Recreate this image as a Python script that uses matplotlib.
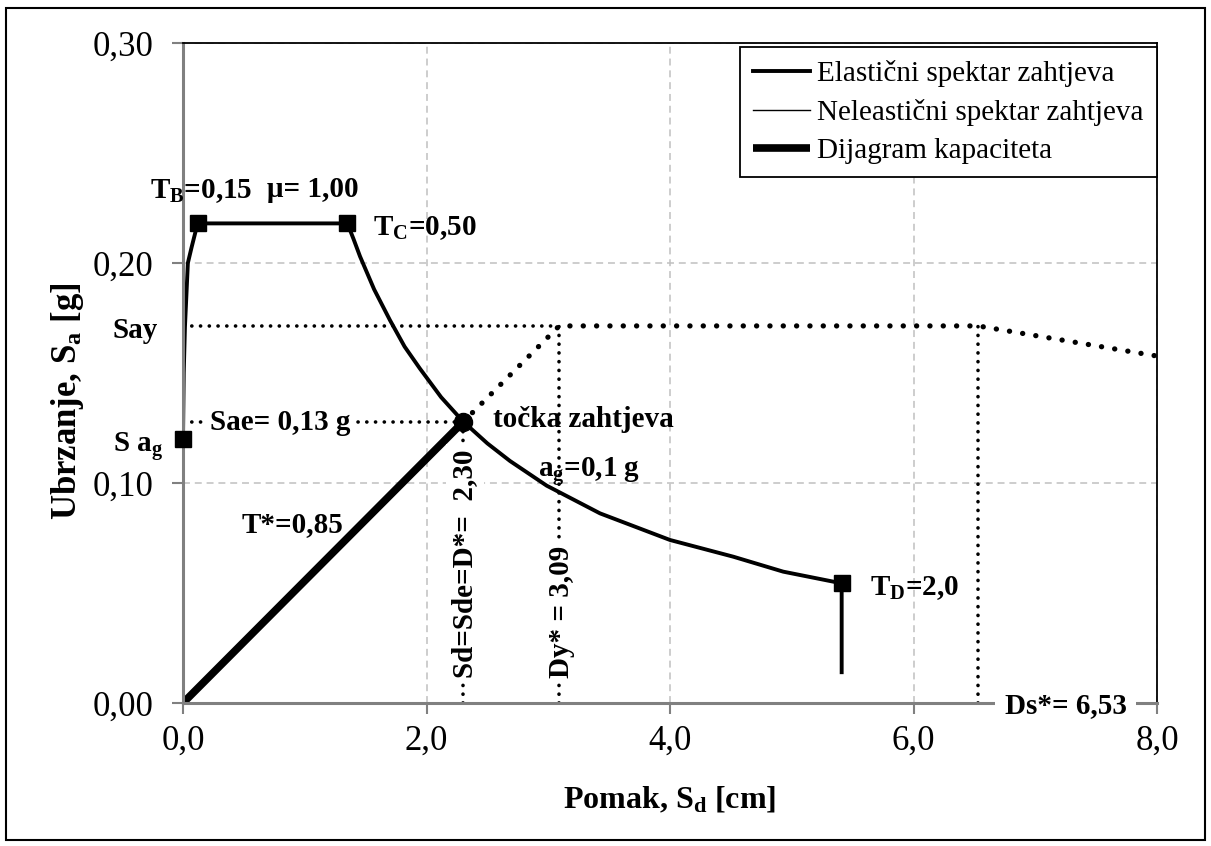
import matplotlib
matplotlib.use('Agg')
import matplotlib.pyplot as plt
from matplotlib.patches import Rectangle

plt.rcParams['font.family'] = 'Liberation Serif'
plt.rcParams['mathtext.fontset'] = 'custom'
plt.rcParams['mathtext.rm'] = 'Liberation Serif'
plt.rcParams['mathtext.bf'] = 'Liberation Serif:bold'
plt.rcParams['mathtext.it'] = 'Liberation Serif:italic'
plt.rcParams['lines.scale_dashes'] = False

# elasticni spektar (Sd [cm], Sa [g]) ocitano sa slike
elastic_sd = [0.0, 0.006, 0.016, 0.04, 0.07, 0.12, 1.35, 1.40, 1.454, 1.57, 1.70, 1.82, 1.946,
              2.12, 2.30, 2.50, 2.686, 2.987, 3.425, 4.0, 4.52, 4.93, 5.41, 5.41]
elastic_sa = [0.120, 0.150, 0.171, 0.200, 0.207, 0.218, 0.218, 0.211, 0.203, 0.188, 0.174, 0.162,
              0.152, 0.139, 0.128, 0.118, 0.110, 0.0988, 0.0862, 0.0741, 0.0665, 0.0597, 0.0544, 0.014]
# mi = 1,00 -> neelasticni = elasticni
inelastic_sd = elastic_sd
inelastic_sa = elastic_sa
# karakteristicne tocke (Sag, TB, TC, TD)
corner_sd = [0.0, 0.12, 1.35, 5.41]
corner_sa = [0.120, 0.218, 0.218, 0.0544]
# dijagram kapaciteta
cap_sd = [0.0, 2.30]
cap_sa = [0.0, 0.1277]
cap_dot_sd = [2.30, 3.09, 6.53, 8.0]
cap_dot_sa = [0.1277, 0.1714, 0.1714, 0.1577]
# tocka zahtjeva i pomocne linije
d_star = 2.30
sae = 0.1277
dy_star = 3.09
ds_star = 6.53
say = 0.1714

x_ticks = [0, 2, 4, 6, 8]
x_labels = ['0,0', '2,0', '4,0', '6,0', '8,0']
y_ticks = [0.0, 0.1, 0.2, 0.3]
y_labels = ['0,00', '0,10', '0,20', '0,30']

W, H = 1211, 846
fig = plt.figure(figsize=(W / 100, H / 100), dpi=100)
ax = fig.add_axes([183 / W, 1 - 703 / H, (1157 - 183) / W, (703 - 43) / H])

small_dots = dict(color='black', lw=2.6, ls=(0, (0.1, 6.2)), dash_capstyle='round')
big_dots = dict(color='black', lw=3.8, ls=(0, (0.1, 9.5)), dash_capstyle='round')

# pomocne tockaste linije
ax.plot([0, dy_star], [say, say], **small_dots)
ax.plot([0, d_star], [sae, sae], **small_dots)
ax.plot([d_star, d_star], [0, sae], **small_dots)
ax.plot([dy_star, dy_star], [0, say], **small_dots)
ax.plot([ds_star, ds_star], [0, say], **small_dots)

l_inel, = ax.plot(inelastic_sd, inelastic_sa, color='black', lw=1.0)
l_el, = ax.plot(elastic_sd, elastic_sa, color='black', lw=2.8, solid_joinstyle='round')
ax.plot(corner_sd, corner_sa, ls='none', marker='s', ms=12, color='black', clip_on=False, zorder=5)
l_cap, = ax.plot(cap_sd, cap_sa, color='black', lw=5.5, solid_capstyle='butt')
ax.plot(cap_dot_sd, cap_dot_sa, **big_dots)
ax.plot([d_star], [sae], ls='none', marker='o', ms=13, color='black', zorder=6)

ax.set_xlim(0, 8)
ax.set_ylim(0, 0.30)
ax.set_xticks(x_ticks)
ax.set_xticklabels(x_labels)
ax.set_yticks(y_ticks)
ax.set_yticklabels(y_labels)
ax.tick_params(axis='both', direction='out', length=8, width=1.5, color='#808080', labelsize=25)
ax.tick_params(axis='x', pad=8)
ax.tick_params(axis='y', pad=13)
ax.grid(True, color='#c0c0c0', ls=(0, (5, 3.5)), lw=1.1)
ax.set_axisbelow(True)
for s in ['left', 'bottom']:
    ax.spines[s].set_color('#808080')
    ax.spines[s].set_linewidth(2.2)
for s in ['top', 'right']:
    ax.spines[s].set_color('black')
    ax.spines[s].set_linewidth(1.3)

fs = 21
wbox = dict(facecolor='white', edgecolor='none', pad=4)
ax.text(-0.271, 0.2294, r'T$_\mathbf{B}$=0,15', fontsize=fs, fontweight='bold', clip_on=False)
ax.text(0.69, 0.2299, 'μ= 1,00', fontsize=fs, fontweight='bold')
ax.text(1.56, 0.2126, r'T$_\mathbf{C}$=0,50', fontsize=fs, fontweight='bold')
ax.text(-0.575, 0.1658, 'Say', fontsize=fs, fontweight='bold', clip_on=False)
ax.text(-0.575, 0.114, r'S a$_\mathbf{g}$', fontsize=fs, fontweight='bold', clip_on=False)
ax.text(0.222, 0.124, 'Sae= 0,13 g', fontsize=fs, fontweight='bold', bbox=wbox)
ax.text(2.546, 0.1254, 'točka zahtjeva', fontsize=fs, fontweight='bold')
ax.text(2.916, 0.1027, r'a$_\mathbf{g}$=0,1 g', fontsize=fs, fontweight='bold')
ax.text(0.485, 0.0777, 'T*=0,85', fontsize=fs, fontweight='bold')
ax.text(d_star + 0.016, 0.0114, 'Sd=Sde=D*=  2,30', fontsize=fs, fontweight='bold',
        rotation=90, ha='center', va='bottom', bbox=wbox)
ax.text(dy_star + 0.02, 0.0114, 'Dy* = 3,09', fontsize=fs, fontweight='bold',
        rotation=90, ha='center', va='bottom', bbox=wbox)
ax.text(5.64, 0.049, r'T$_\mathbf{D}$=2,0', fontsize=fs, fontweight='bold')
ax.text(6.75, -0.0045, 'Ds*= 6,53', fontsize=fs, fontweight='bold', clip_on=False,
        bbox=dict(facecolor='white', edgecolor='none', pad=7), zorder=10)

fig.text(670 / W, 1 - 808 / H, r'Pomak, S$_\mathbf{d}$ [cm]', fontsize=23, fontweight='bold',
         ha='center', va='baseline')
fig.text(68 / W, 1 - 401 / H, r'Ubrzanje, S$_\mathbf{a}$ [g]', fontsize=25, fontweight='bold',
         rotation=90, ha='center', va='center')

leg = ax.legend([l_el, l_inel, l_cap],
                ['Elastični spektar zahtjeva', 'Neleastični spektar zahtjeva', 'Dijagram kapaciteta'],
                loc='upper right', bbox_to_anchor=(1157 / W, 1 - 47 / H),
                bbox_transform=fig.transFigure, borderaxespad=0, fancybox=False,
                edgecolor='black', framealpha=1, fontsize=21, handlelength=1.95,
                handletextpad=0.25, labelspacing=0.4, borderpad=0.45)
leg.get_frame().set_linewidth(1.3)

fig.patches.append(Rectangle((6 / W, 1 - 840 / H), (1205 - 6) / W, (840 - 8) / H,
                             transform=fig.transFigure, fill=False, edgecolor='black', lw=1.5))

fig.savefig('out.png', dpi=100)
